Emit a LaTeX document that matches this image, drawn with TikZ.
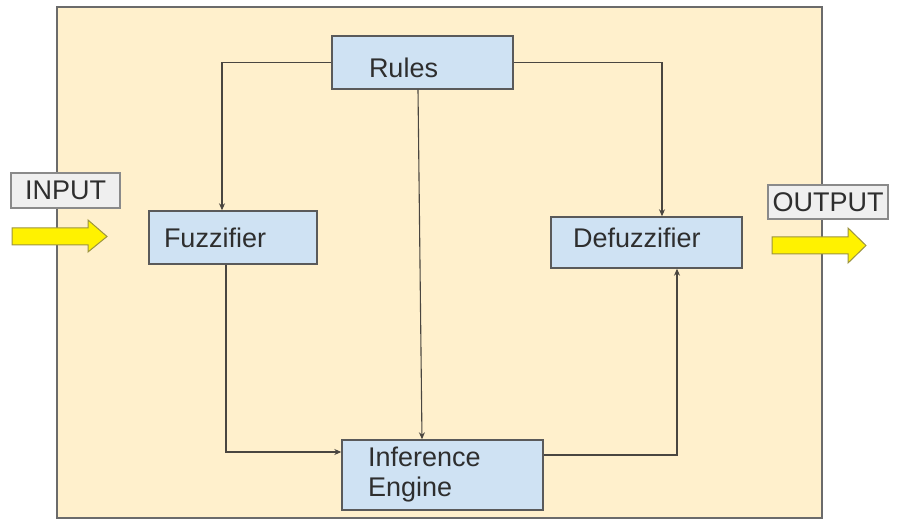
\documentclass[tikz,border=0pt]{standalone}
\usepackage{fontspec}
\setmainfont{Liberation Sans}
\usetikzlibrary{arrows.meta}
\definecolor{panel}{HTML}{FFF0CC}
\definecolor{panelline}{HTML}{6B6B6B}
\definecolor{boxfill}{HTML}{CFE2F3}
\definecolor{boxline}{HTML}{5A5A5A}
\definecolor{ink}{HTML}{2E2E2E}
\definecolor{wire}{HTML}{4A4640}
\definecolor{tagfill}{HTML}{EFEFEF}
\definecolor{tagline}{HTML}{8A8A8A}
\definecolor{arrowline}{HTML}{9C9440}
\tikzset{
  stage/.style={draw=boxline, line width=1.4pt, fill=boxfill, text=ink,
    font=\fontsize{27}{27}\selectfont, align=left, anchor=center},
  tag/.style={draw=tagline, line width=1.2pt, fill=tagfill, text=ink,
    font=\fontsize{27}{27}\selectfont, inner sep=0pt, anchor=center},
  wire/.style={draw=wire, line width=1.1pt, -{Stealth[length=7pt,width=6pt]}},
  flow/.style={fill=yellow, draw=arrowline, line width=1pt, line join=miter}
}
\begin{document}
\begin{tikzpicture}[x=1pt, y=-1pt]
  \useasboundingbox (0,0) rectangle (897,521);
  \fill[white] (0,0) rectangle (897,521);
  % system panel
  \draw[panelline, line width=1.4pt, fill=panel] (57,7) rectangle (822,518);

  % processing stages
  \node[stage, minimum width=181pt, minimum height=53pt, inner xsep=37pt,
        text width=107pt, text height=31pt, text depth=0pt] (rules) at (422.5,62.5) {Rules};
  \node[stage, minimum width=168pt, minimum height=53pt, inner xsep=15pt,
        text width=138pt, text height=20pt, text depth=0pt] (fuzz) at (233,237.5) {Fuzzifier};
  \node[stage, minimum width=191pt, minimum height=51pt, inner xsep=22pt,
        text width=147pt, text height=19pt, text depth=9pt] (defuzz) at (646.5,242.5) {Defuzzifier};
  \node[stage, minimum width=201pt, minimum height=70pt, inner xsep=26pt,
        text width=149pt] (inf) at (442.5,475) {Inference\\[3pt]Engine};

  % input / output tags
  \node[tag, minimum width=109pt, minimum height=35pt] (intag) at (65.5,190.5) {INPUT};
  \node[tag, minimum width=120pt, minimum height=34pt] (outtag) at (828,202) {OUTPUT};

  % yellow flow arrows
  \draw[flow] (12,228) -- (88,228) -- (88,220) -- (107,236.5) -- (88,252)
              -- (88,245) -- (12,245) -- cycle;
  \draw[flow] (772,237) -- (848,237) -- (848,228) -- (866,245.5) -- (848,263)
              -- (848,254) -- (772,254) -- cycle;

  % connectors
  \draw[wire] (rules.west) -| ([xshift=-11pt]fuzz.north);
  \draw[wire] (rules.east) -| ([xshift=15.5pt]defuzz.north);
  \draw[wire] ([xshift=-4.5pt]rules.south) -- ([xshift=-20.5pt]inf.north);
  \draw[wire] ([xshift=-7pt]fuzz.south) |- ([yshift=23pt]inf.west);
  \draw[wire] ([yshift=20pt]inf.east) -| ([xshift=30.5pt]defuzz.south);
\end{tikzpicture}
\end{document}
